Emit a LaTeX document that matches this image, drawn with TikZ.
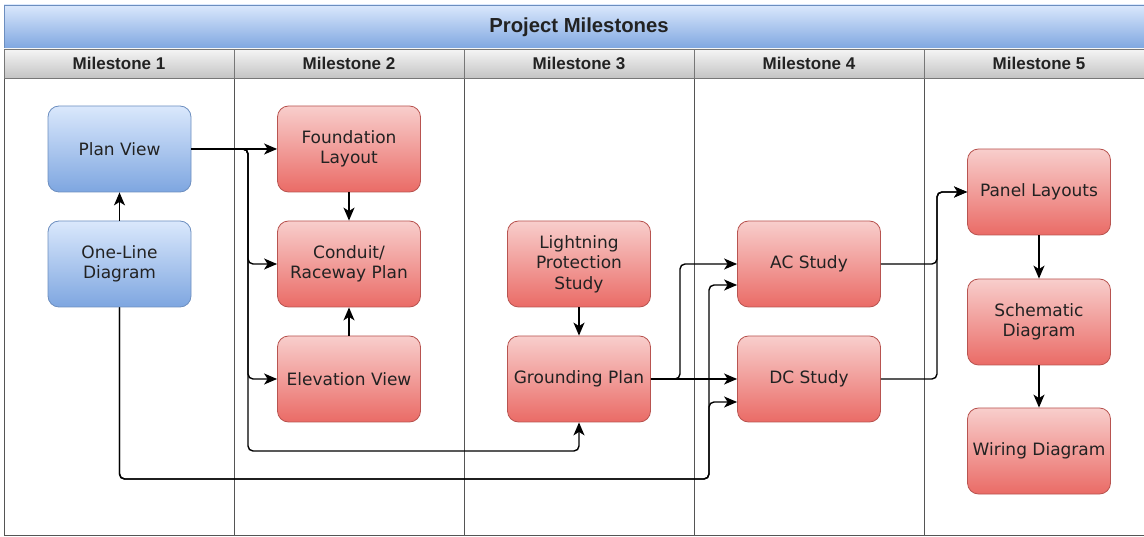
\documentclass[tikz,border=0pt]{standalone}
\usepackage{fontspec}
\setmainfont{DejaVu Sans}
\newfontfamily\hdfont{Liberation Sans}
\usetikzlibrary{arrows.meta}
\definecolor{bluetop}{HTML}{DAE8FC}
\definecolor{bluebot}{HTML}{7EA6E0}
\definecolor{blueline}{HTML}{6C8EBF}
\definecolor{redtop}{HTML}{F8CECC}
\definecolor{redbot}{HTML}{EA6B66}
\definecolor{redline}{HTML}{B85450}
\definecolor{greytop}{HTML}{F5F5F5}
\definecolor{greybot}{HTML}{C4C4C4}
\definecolor{laneline}{HTML}{555555}
\definecolor{txt}{HTML}{222222}
\tikzset{
  box/.style={rounded corners=11pt, minimum width=143pt, minimum height=86pt,
    inner sep=2pt, align=center, text=txt, line width=0.8pt,
    font=\fontsize{17}{20.5}\selectfont},
  bluebox/.style={box, draw=blueline, top color=bluetop, bottom color=bluebot},
  redbox/.style={box, draw=redline, top color=redtop, bottom color=redbot},
  conn/.style={line width=1.4pt, rounded corners=5pt,
    -{Stealth[length=13pt,width=11pt,inset=3.5pt]}},
  titlebar/.style={draw=blueline, top color=bluetop, bottom color=bluebot,
    minimum width=1150pt, minimum height=44pt, inner sep=0pt,
    font=\hdfont\bfseries\fontsize{20.3}{24}\selectfont, text=txt},
  headcell/.style={draw=laneline!80, top color=greytop, bottom color=greybot,
    minimum width=230pt, minimum height=29pt, inner sep=0pt,
    font=\hdfont\bfseries\fontsize{17}{20}\selectfont, text=txt},
  lane/.style={draw=laneline, line width=0.8pt}
}
\begin{document}
\begin{tikzpicture}[x=1pt,y=-1pt]
\useasboundingbox (0,0) rectangle (1144,537);
\begin{scope}
\clip (0,0) rectangle (1144,537);
% lanes
\foreach \i in {0,...,4} {
  \draw[lane] ({4+230*\i},78) rectangle ({234+230*\i},535);
}
% title and headers
\node[titlebar] (title) at (579,27) {Project Milestones};
\node[headcell] (h1) at (119,63.5) {Milestone 1};
\node[headcell] (h2) at (349,63.5) {Milestone 2};
\node[headcell] (h3) at (579,63.5) {Milestone 3};
\node[headcell] (h4) at (809,63.5) {Milestone 4};
\node[headcell] (h5) at (1039,63.5) {Milestone 5};
\end{scope}

% nodes
\node[bluebox] (plan) at (119.5,149) {Plan View};
\node[bluebox] (one) at (119.5,264) {One-Line\\Diagram};
\node[redbox] (found) at (349,149) {Foundation\\Layout};
\node[redbox] (conduit) at (349,264) {Conduit/\\Raceway Plan};
\node[redbox] (elev) at (349,379) {Elevation View};
\node[redbox] (light) at (579,264) {Lightning\\Protection\\Study};
\node[redbox] (ground) at (579,379) {Grounding Plan};
\node[redbox] (ac) at (809,264) {AC Study};
\node[redbox] (dc) at (809,379) {DC Study};
\node[redbox] (panel) at (1039,192) {Panel Layouts};
\node[redbox] (schem) at (1039,322) {Schematic\\Diagram};
\node[redbox] (wiring) at (1039,451) {Wiring Diagram};

% connectors
\draw[conn] (one) -- (plan);
\draw[conn] (plan) -- (found);
\draw[conn] (plan.east) -- (248,149) |- (conduit.west);
\draw[conn] (plan.east) -- (248,149) |- (elev.west);
\draw[conn] (plan.east) -- (248,149) |- (579,451) -- (ground.south);
\draw[conn] (found) -- (conduit);
\draw[conn] (elev) -- (conduit);
\draw[conn] (light) -- (ground);
\draw[conn] (ground.east) -- (680,379) |- (ac.west);
\draw[conn] (ground) -- (dc);
\draw[conn] (one.south) |- (709,479) |- ([yshift=-21pt]ac.west);
\draw[conn] (one.south) |- (709,479) |- ([yshift=-23pt]dc.west);
\draw[conn] (ac.east) -- (937,264) |- (panel.west);
\draw[conn] (dc.east) -- (937,379) |- (panel.west);
\draw[conn] (panel) -- (schem);
\draw[conn] (schem) -- (wiring);
\end{tikzpicture}
\end{document}
